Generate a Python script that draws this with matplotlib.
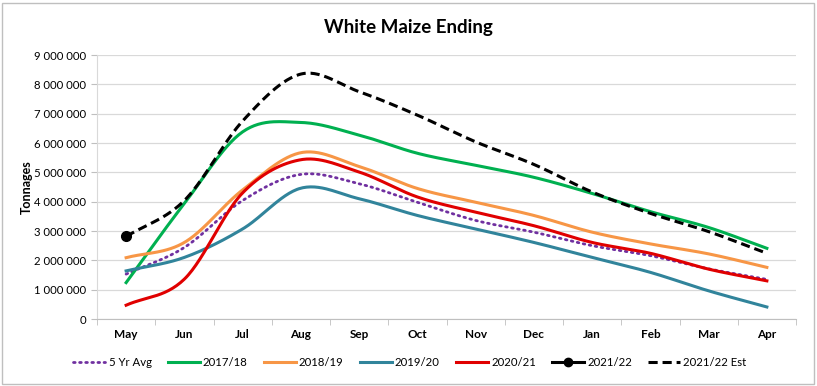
import numpy as np
import matplotlib
matplotlib.use("Agg")
import matplotlib.pyplot as plt
from matplotlib.lines import Line2D
from matplotlib.patches import Rectangle
from matplotlib.ticker import FuncFormatter

months = ["May", "Jun", "Jul", "Aug", "Sep", "Oct", "Nov", "Dec", "Jan", "Feb", "Mar", "Apr"]

avg5 = [1.53, 2.44, 4.04, 4.93, 4.61, 3.98, 3.36, 2.96, 2.50, 2.16, 1.71, 1.35]
y1718 = [1.24, 3.94, 6.38, 6.70, 6.27, 5.65, 5.24, 4.83, 4.28, 3.66, 3.12, 2.41]
y1819 = [2.09, 2.61, 4.40, 5.67, 5.20, 4.45, 3.98, 3.53, 2.96, 2.56, 2.22, 1.76]
y1920 = [1.64, 2.10, 3.07, 4.46, 4.10, 3.53, 3.07, 2.61, 2.10, 1.59, 0.96, 0.41]
y2021 = [0.47, 1.36, 4.30, 5.43, 5.01, 4.16, 3.64, 3.18, 2.61, 2.24, 1.70, 1.30]
y2122 = [2.82]
y2122_est = [2.81, 4.04, 6.75, 8.35, 7.75, 6.95, 6.04, 5.27, 4.33, 3.60, 2.98, 2.24]

yticks = [0, 1, 2, 3, 4, 5, 6, 7, 8, 9]

FONT = "Lato"


def smooth(vals, n=30):
    """Catmull-Rom smoothing (like Excel's smoothed line)."""
    v = np.asarray(vals, float) * 1e6
    k = len(v)
    x = np.arange(k, dtype=float)
    if k < 2:
        return x, v
    p = np.concatenate([[2 * v[0] - v[1]], v, [2 * v[-1] - v[-2]]])
    xs, ys = [], []
    for i in range(k - 1):
        p0, p1, p2, p3 = p[i], p[i + 1], p[i + 2], p[i + 3]
        t = np.linspace(0, 1, n, endpoint=(i == k - 2))
        yy = 0.5 * ((2 * p1) + (-p0 + p2) * t + (2 * p0 - 5 * p1 + 4 * p2 - p3) * t ** 2
                    + (-p0 + 3 * p1 - 3 * p2 + p3) * t ** 3)
        xs.append(i + t)
        ys.append(yy)
    return np.concatenate(xs), np.concatenate(ys)


fig = plt.figure(figsize=(8.17, 3.86), dpi=100)
ax = fig.add_axes([97 / 817, 1 - 319 / 386, (796 - 97) / 817, (319 - 55) / 386])

series = [
    ("5 Yr Avg", avg5, dict(color="#7030A0", lw=2.0, ls=(0, (0.6, 1.6)), dash_capstyle="round")),
    ("2017/18", y1718, dict(color="#00B050", lw=2.2)),
    ("2018/19", y1819, dict(color="#F79646", lw=2.2)),
    ("2019/20", y1920, dict(color="#31849B", lw=2.2)),
    ("2020/21", y2021, dict(color="#E00000", lw=2.2)),
]

handles = []
for name, vals, st in series:
    xs, ys = smooth(vals)
    ax.plot(xs, ys, zorder=3, **st)
    handles.append(Line2D([], [], label=name, **st))

xs, ys = smooth(y2122_est)
est_style = dict(color="black", lw=2.2, ls=(0, (3, 1.6)))
ax.plot(xs, ys, zorder=4, **est_style)

ax.plot(np.arange(len(y2122)), np.array(y2122) * 1e6, color="black", lw=2.2,
        marker="o", ms=7, zorder=5)
handles.append(Line2D([], [], color="black", lw=2.2, marker="o", ms=6, label="2021/22"))
handles.append(Line2D([], [], label="2021/22 Est", **est_style))

ax.set_xlim(-0.5, len(months) - 0.5)
ax.set_ylim(0, 9e6)
ax.set_yticks([t * 1e6 for t in yticks])
ax.yaxis.set_major_formatter(FuncFormatter(lambda v, p: f"{int(round(v)):,}".replace(",", " ")))
ax.set_xticks(np.arange(len(months)))
ax.set_xticklabels(months, fontweight="bold")
ax.set_xticks(np.arange(len(months) + 1) - 0.5, minor=True)
ax.tick_params(axis="x", which="major", length=0, pad=7, labelsize=8.5)
ax.tick_params(axis="x", which="minor", length=4, color="#BFBFBF", direction="out")
ax.tick_params(axis="y", length=4, color="#BFBFBF", labelsize=8.2, pad=4)
for lab in ax.get_xticklabels() + ax.get_yticklabels():
    lab.set_fontfamily(FONT)

ax.grid(axis="y", color="#D9D9D9", lw=0.9)
ax.set_axisbelow(True)
for s in ["top", "right"]:
    ax.spines[s].set_visible(False)
ax.spines["left"].set_color("#D9D9D9")
ax.spines["bottom"].set_color("#BFBFBF")

fig.text(27 / 817, 1 - 187 / 386, "Tonnages", rotation=90, ha="center", va="center",
         fontfamily=FONT, fontweight="bold", fontsize=9)

fig.text(0.5, 1 - 27 / 386, "White Maize Ending", ha="center", va="center",
         fontfamily=FONT, fontweight="bold", fontsize=13.5)

fig.legend(handles=handles, loc="center", bbox_to_anchor=(410 / 817, 1 - 362 / 386), ncol=7,
           frameon=False, handlelength=2.8, columnspacing=1.4, handletextpad=0.3,
           prop={"family": FONT, "size": 8.2})

fig.patches.append(Rectangle((2 / 817, 2 / 386), 1 - 5 / 817, 1 - 5 / 386,
                             transform=fig.transFigure, fill=False, edgecolor="#BFBFBF", lw=1))

fig.savefig("out.png", dpi=100)
